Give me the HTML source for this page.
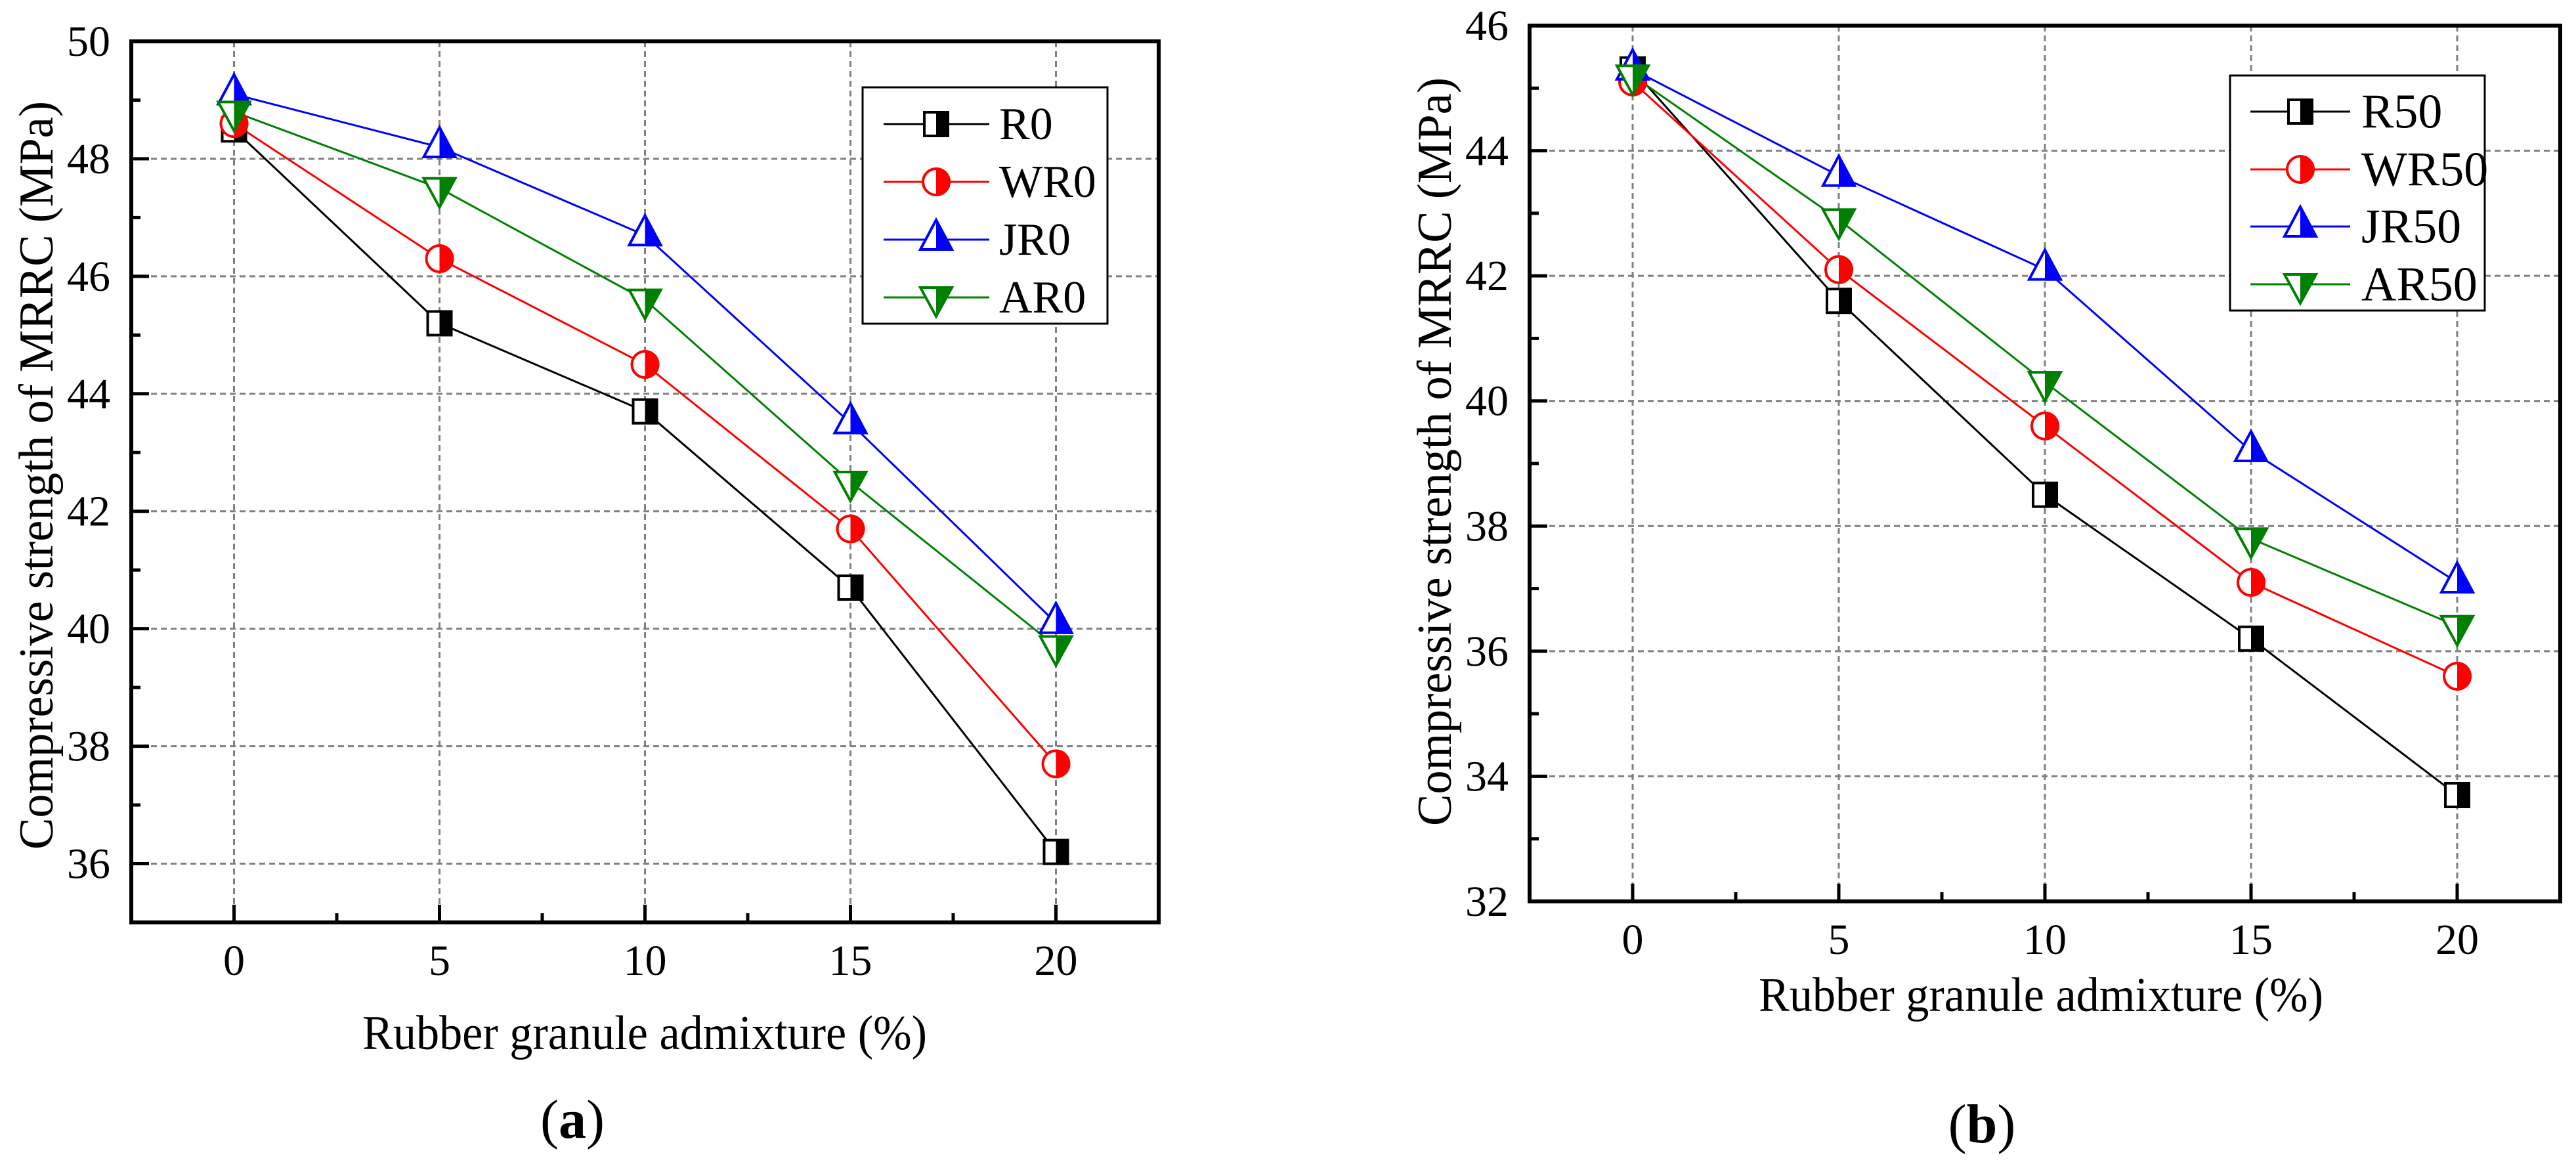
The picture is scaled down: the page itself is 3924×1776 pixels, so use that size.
<!DOCTYPE html>
<html><head><meta charset="utf-8"><style>html,body{margin:0;padding:0;background:#fff}svg{display:block}svg text,svg tspan{font-family:"Liberation Serif","Times New Roman","Nimbus Roman","FreeSerif","DejaVu Serif","Noto Serif CJK SC",serif}</style></head>
<body>
<svg id="s" xmlns="http://www.w3.org/2000/svg" width="3924" height="1776" viewBox="0 0 3924 1776">
<rect width="3924" height="1776" fill="#fff"/>
</svg>
<script>
const NS="http://www.w3.org/2000/svg",S=document.getElementById('s');
const FF='"Liberation Serif","Times New Roman","Nimbus Roman","FreeSerif","DejaVu Serif","Noto Serif CJK SC",serif';
function el(t,a,p){const e=document.createElementNS(NS,t);for(const k in a)e.setAttribute(k,a[k]);(p||S).appendChild(e);return e}
function txt(x,y,s,a){const e=el('text',Object.assign({x:x,y:y,'font-family':FF},a));e.style.fontFamily=FF;e.textContent=s;return e}
function marker(type,cx,cy,col){
 if(type==='sq'){el('rect',{x:cx-18,y:cy-18,width:36,height:36,fill:'#fff',stroke:col,'stroke-width':4});el('rect',{x:cx,y:cy-18,width:18,height:36,fill:col});}
 else if(type==='ci'){el('circle',{cx:cx,cy:cy,r:20,fill:'#fff',stroke:col,'stroke-width':4});el('path',{d:`M${cx},${cy-22}A22,22 0 0 1 ${cx},${cy+22}Z`,fill:col});}
 else if(type==='up'){el('polygon',{points:`${cx},${cy-30} ${cx-24},${cy+15} ${cx+24},${cy+15}`,fill:'#fff',stroke:col,'stroke-width':4});el('polygon',{points:`${cx},${cy-32} ${cx+26},${cy+17} ${cx},${cy+17}`,fill:col});}
 else {el('polygon',{points:`${cx-24},${cy-15} ${cx+24},${cy-15} ${cx},${cy+29}`,fill:'#fff',stroke:col,'stroke-width':4});el('polygon',{points:`${cx},${cy-17} ${cx+26},${cy-17} ${cx},${cy+31}`,fill:col});}
}
const types=['sq','ci','up','dn'],cols=['#000','#f00','#00f','#008000'];
function panel(P){
 const X=v=>P.x0+(v-(-2.5))/25*(P.x1-P.x0), Y=v=>P.y1-(v-P.ymin)/(P.ymax-P.ymin)*(P.y1-P.y0);
 for(let v=Math.ceil(P.ymin);v<P.ymax;v++){ if(v%2) continue; el('line',{x1:P.x0,x2:P.x1,y1:Y(v),y2:Y(v),stroke:'#808080','stroke-width':3,'stroke-dasharray':'9,6'});}
 for(let v=0;v<=20;v+=5)el('line',{x1:X(v),x2:X(v),y1:P.y0,y2:P.y1,stroke:'#808080','stroke-width':3,'stroke-dasharray':'9,6'});
 for(let v=Math.ceil(P.ymin);v<=P.ymax;v++){const maj=v%2===0;el('line',{x1:P.x0,x2:P.x0+(maj?27:14),y1:Y(v),y2:Y(v),stroke:'#000','stroke-width':5});
  if(maj)txt(P.x0-32,Y(v)+22,String(v),{'font-size':66,'text-anchor':'end'});}
 for(let v=0;v<=20;v+=2.5){const maj=v%5===0;el('line',{x1:X(v),x2:X(v),y1:P.y1,y2:P.y1-(maj?27:14),stroke:'#000','stroke-width':5});
  if(maj)txt(X(v),P.y1+80,String(v),{'font-size':66,'text-anchor':'middle'});}
 el('rect',{x:P.x0,y:P.y0,width:P.x1-P.x0,height:P.y1-P.y0,fill:'none',stroke:'#000','stroke-width':6});
 P.data.forEach((d,i)=>{el('polyline',{points:d.map((v,j)=>X(j*5)+','+Y(v)).join(' '),fill:'none',stroke:cols[i],'stroke-width':3});});
 P.data.forEach((d,i)=>{d.forEach((v,j)=>marker(types[i],X(j*5),Y(v),cols[i]));});
 const L=P.leg;el('rect',{x:L.x,y:L.y,width:L.w,height:L.h,fill:'#fff',stroke:'#000','stroke-width':3});
 L.rows.forEach((ry,i)=>{el('line',{x1:L.lx0,x2:L.lx1,y1:ry,y2:ry,stroke:cols[i],'stroke-width':3});marker(types[i],L.mx,ry,cols[i]);
  txt(L.tx,ry+L.fs*0.33,P.names[i],{'font-size':L.fs});});
 txt(P.xtx,P.xty,'Rubber granule admixture (%)',{'font-size':74,'text-anchor':'middle',textLength:860,lengthAdjust:'spacingAndGlyphs'});
 txt(0,0,'Compressive strength of MRRC (MPa)',{'font-size':74,'text-anchor':'middle',textLength:1140,lengthAdjust:'spacingAndGlyphs',transform:`translate(${P.ytx},${P.yty}) rotate(-90)`});
 const c=txt(P.cx,P.cy,'(',{'font-size':84,'text-anchor':'middle'});
 const b=el('tspan',{'font-weight':'bold'},c);b.textContent=P.clab;const r=el('tspan',{},c);r.textContent=')';
}
panel({x0:200,x1:1765,y0:63,y1:1405,ymin:35,ymax:50,
 data:[[48.5,45.2,43.7,40.7,36.2],[48.6,46.3,44.5,41.7,37.7],[49.1,48.2,46.7,43.5,40.1],[48.8,47.5,45.6,42.5,39.7]],
 names:['R0','WR0','JR0','AR0'],
 leg:{x:1314,y:133,w:373,h:360,rows:[189,277,365,453],lx0:1346,lx1:1507,mx:1426,tx:1522,fs:70},
 xtx:982,xty:1598,ytx:80,yty:724,cx:872,cy:1733,clab:'a'});
panel({x0:2330,x1:3900,y0:39,y1:1373,ymin:32,ymax:46,
 data:[[45.3,41.6,38.5,36.2,33.7],[45.1,42.1,39.6,37.1,35.6],[45.3,43.6,42.1,39.2,37.1],[45.2,42.9,40.3,37.8,36.4]],
 names:['R50','WR50','JR50','AR50'],
 leg:{x:3397,y:115,w:388,h:358,rows:[170,258,345,433],lx0:3428,lx1:3580,mx:3504,tx:3597,fs:74},
 xtx:3109,xty:1540,ytx:2210,yty:688,cx:3019,cy:1740,clab:'b'});
</script>
</body></html>
